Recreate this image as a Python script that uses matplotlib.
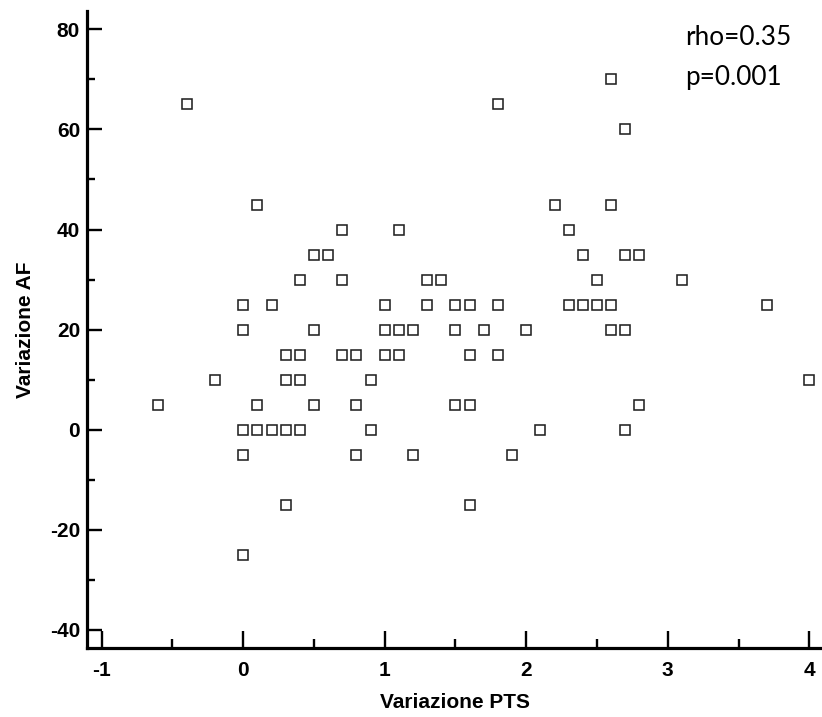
import matplotlib
matplotlib.use("Agg")
import matplotlib.pyplot as plt
from matplotlib.ticker import MultipleLocator

pts_x = [-0.4, 1.8, 2.6, 2.7,
         0.1, 2.2, 2.6,
         0.7, 1.1, 2.3,
         0.5, 0.6, 2.4, 2.7, 2.8,
         0.4, 0.7, 1.3, 1.4, 2.5, 3.1,
         0.0, 0.2, 1.0, 1.3, 1.5, 1.6, 1.8, 2.3, 2.4, 2.5, 2.6, 3.7,
         0.0, 0.5, 1.0, 1.1, 1.2, 1.5, 1.7, 2.0, 2.6, 2.7,
         0.3, 0.4, 0.7, 0.8, 1.0, 1.1, 1.6, 1.8,
         -0.2, 0.3, 0.4, 0.9, 4.0,
         -0.6, 0.1, 0.5, 0.8, 1.5, 1.6, 2.8,
         0.0, 0.1, 0.2, 0.3, 0.4, 0.9, 2.1, 2.7,
         0.0, 0.8, 1.2, 1.9,
         0.3, 1.6,
         0.0]
pts_y = [65, 65, 70, 60,
         45, 45, 45,
         40, 40, 40,
         35, 35, 35, 35, 35,
         30, 30, 30, 30, 30, 30,
         25, 25, 25, 25, 25, 25, 25, 25, 25, 25, 25, 25,
         20, 20, 20, 20, 20, 20, 20, 20, 20, 20,
         15, 15, 15, 15, 15, 15, 15, 15,
         10, 10, 10, 10, 10,
         5, 5, 5, 5, 5, 5, 5,
         0, 0, 0, 0, 0, 0, 0, 0,
         -5, -5, -5, -5,
         -15, -15,
         -25]

x_ticks = [-1, 0, 1, 2, 3, 4]
y_ticks = [-40, -20, 0, 20, 40, 60, 80]
x_label = "Variazione PTS"
y_label = "Variazione AF"
annot = ["rho=0.35", "p=0.001"]

W, H = 822, 717
fig = plt.figure(figsize=(W / 100, H / 100), dpi=100)
ax = fig.add_axes([87 / W, (H - 648) / H, (W - 87) / W, (648 - 11) / H])

ax.plot(pts_x, pts_y, linestyle="none", marker="s", markersize=6.6,
        markerfacecolor="white", markeredgecolor="#222222", markeredgewidth=1.15,
        clip_on=False)

ax.set_xlim(-1.104, 4.09)
ax.set_ylim(-43.6, 83.66)
ax.set_xticks(x_ticks)
ax.set_yticks(y_ticks)
ax.xaxis.set_minor_locator(MultipleLocator(0.5))
ax.yaxis.set_minor_locator(MultipleLocator(10))

for s in ["top", "right"]:
    ax.spines[s].set_visible(False)
for s in ["left", "bottom"]:
    ax.spines[s].set_linewidth(2.3)
    ax.spines[s].set_color("black")

tick_font = dict(family="Liberation Sans", weight="bold", size=15)
ax.tick_params(axis="x", which="major", direction="in", length=12.5, width=1.7, pad=9)
ax.tick_params(axis="x", which="minor", direction="in", length=6.5, width=1.7)
ax.tick_params(axis="y", which="major", direction="in", length=10.5, width=1.7, pad=5)
ax.tick_params(axis="y", which="minor", direction="in", length=6, width=1.7)
ax.set_xticklabels([str(t) for t in x_ticks], fontdict=tick_font)
ax.set_yticklabels([str(t) for t in y_ticks], fontdict=tick_font)

ax.set_xlabel(x_label, fontdict=tick_font, labelpad=10)
ax.set_ylabel(y_label, fontdict=tick_font, labelpad=10.5)

ax.text(3.12, 76.85, annot[0], family="Lato", size=18.8, va="baseline", ha="left")
ax.text(3.12, 68.9, annot[1], family="Lato", size=18.8, va="baseline", ha="left")

fig.savefig("out.png", dpi=100)
